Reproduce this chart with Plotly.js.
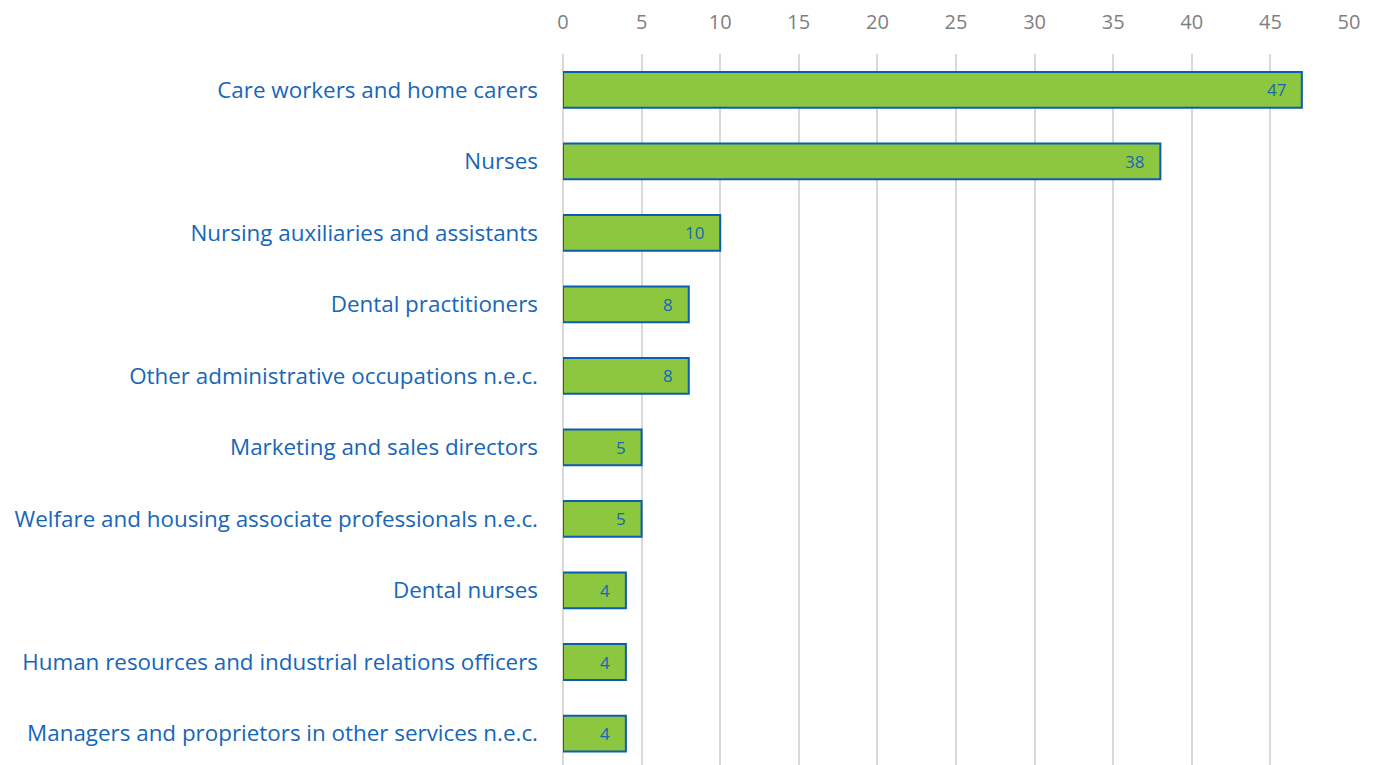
<!DOCTYPE html>
<html><head><meta charset="utf-8">
<script src="https://cdn.plot.ly/plotly-3.0.1.min.js"></script>
<style>html,body{margin:0;padding:0;background:#fff}#chart{width:1375px;height:765px}</style>
</head><body><div id="chart"></div>
<script>
const categories = [
  "Care workers and home carers",
  "Nurses",
  "Nursing auxiliaries and assistants",
  "Dental practitioners",
  "Other administrative occupations n.e.c.",
  "Marketing and sales directors",
  "Welfare and housing associate professionals n.e.c.",
  "Dental nurses",
  "Human resources and industrial relations officers",
  "Managers and proprietors in other services n.e.c."
];
const values = [47, 38, 10, 8, 8, 5, 5, 4, 4, 4];
const xTicks = [0, 5, 10, 15, 20, 25, 30, 35, 40, 45, 50];

const blue = "#1766b8";
const trace = {
  type: "bar", orientation: "h",
  x: values, y: categories,
  width: 0.5,
  marker: {color: "#8dc63f", line: {color: "#0b5cb5", width: 2}},
  hoverinfo: "x+y"
};
const annotations = values.map((v, i) => ({
  x: v, y: categories[i], xref: "x", yref: "y",
  text: String(v), showarrow: false, xanchor: "right", xshift: -14,
  font: {family: "Open Sans, sans-serif", size: 17, color: blue}
}));
const layout = {
  width: 1375, height: 765,
  margin: {l: 563, r: 26, t: 54, b: 0},
  paper_bgcolor: "#fff", plot_bgcolor: "#fff",
  showlegend: false,
  font: {family: "Open Sans, sans-serif"},
  xaxis: {
    side: "top", range: [0, 50], tickvals: xTicks, ticktext: xTicks.map(String),
    showgrid: true, gridcolor: "#d9d9d9", gridwidth: 2,
    zeroline: true, zerolinecolor: "#d9d9d9", zerolinewidth: 2,
    ticks: "", ticklabelstandoff: 20,
    tickfont: {size: 20, color: "#7f7f7f"}, showline: false
  },
  yaxis: {
    type: "category", range: [9.44, -0.5], ticks: "",
    ticklabelstandoff: 24, showgrid: false, zeroline: false, showline: false,
    tickfont: {size: 22.4, color: blue}
  },
  annotations: annotations
};
Plotly.newPlot("chart", [trace], layout, {displayModeBar: false});
</script></body></html>
